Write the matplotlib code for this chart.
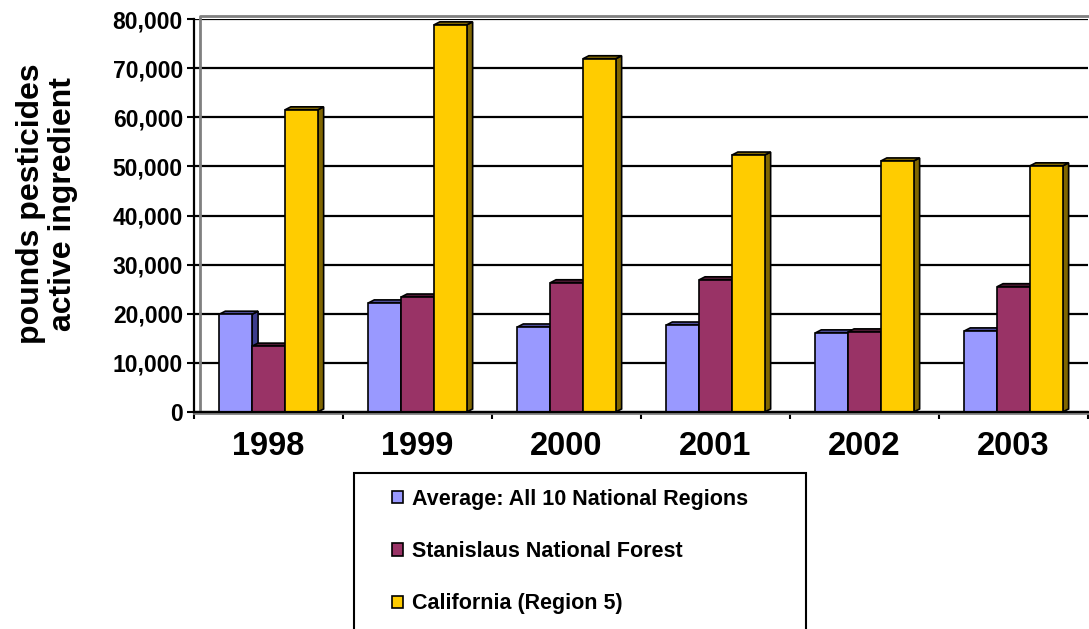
import numpy as np
import matplotlib.pyplot as plt
from matplotlib.patches import Patch, Polygon, Rectangle

plt.rcParams['font.family'] = ['Liberation Sans', 'DejaVu Sans']
plt.rcParams['font.weight'] = 'bold'

years = ['1998', '1999', '2000', '2001', '2002', '2003']
national_avg = [19900, 22200, 17300, 17700, 16100, 16500]
stanislaus = [13400, 23400, 26300, 26900, 16300, 25500]
california = [61500, 78800, 71900, 52300, 51100, 50100]

series_names = ['Average: All 10 National Regions',
                'Stanislaus National Forest',
                'California (Region 5)']
front_colors = ['#9999FF', '#993366', '#FFCC00']
side_colors = ['#3C3C8C', '#4D1A33', '#806600']
top_colors = ['#4D4D99', '#4D1A33', '#806600']


def draw_bar(ax, x, w, h, i, z, dx, dy):
    edge = dict(edgecolor='black', linewidth=1.2)
    side = [(x + w / 2, 0), (x + w / 2 + dx, dy),
            (x + w / 2 + dx, h + dy), (x + w / 2, h)]
    top = [(x - w / 2, h), (x - w / 2 + dx, h + dy),
           (x + w / 2 + dx, h + dy), (x + w / 2, h)]
    ax.add_patch(Polygon(side, closed=True, facecolor=side_colors[i],
                         zorder=z, **edge))
    ax.add_patch(Polygon(top, closed=True, facecolor=top_colors[i],
                         zorder=z, **edge))
    ax.add_patch(Rectangle((x - w / 2, 0), w, h, facecolor=front_colors[i],
                           zorder=z + 0.5, **edge))


def main():
    fig = plt.figure(figsize=(10.89, 6.29), dpi=100)
    ax = fig.add_axes([194 / 1089, 1 - 412 / 629, 894 / 1089, 393 / 629])

    data = [national_avg, stanislaus, california]
    x = np.arange(len(years))
    width = 0.22
    offsets = [-0.22, 0.0, 0.22]
    dx, dy = 0.04, 620

    ax.set_xlim(-0.5, len(years) - 0.5)
    ax.set_ylim(0, 80000)

    # back wall and floor
    ax.plot([-0.5 + dx, -0.5 + dx, len(years) - 0.5],
            [0, 80000 + dy, 80000 + dy], color='#808080', lw=2,
            clip_on=False, zorder=1)
    ax.plot([-0.5, len(years) - 0.5], [-dy / 3, -dy / 3], color='#808080',
            lw=2, clip_on=False, zorder=1)

    z = 3
    for g in range(len(years)):
        for i in range(3):
            draw_bar(ax, x[g] + offsets[i], width, data[i][g], i, z, dx, dy)
            z += 1

    ax.set_yticks(np.arange(0, 80001, 10000))
    ax.yaxis.set_major_formatter(plt.FuncFormatter(lambda v, p: f'{int(v):,}'))
    ax.grid(axis='y', color='black', linewidth=1.6, zorder=0)
    ax.set_axisbelow(True)
    ax.tick_params(axis='y', labelsize=16.5, length=5, width=1.5, pad=3,
                   color='black')

    ax.set_xticks(x)
    ax.set_xticklabels(years, fontsize=23.5)
    ax.set_xticks(np.arange(-0.5, len(years)), minor=True)
    ax.tick_params(axis='x', which='major', length=0, pad=14)
    ax.tick_params(axis='x', which='minor', length=5, width=1.5,
                   direction='out', color='black')

    for s in ['top', 'right']:
        ax.spines[s].set_visible(False)
    for s in ['left', 'bottom']:
        ax.spines[s].set_linewidth(1.6)
        ax.spines[s].set_zorder(50)

    fig.text(47 / 1089, 1 - 204 / 629, 'pounds pesticides\nactive ingredient',
             rotation=90, ha='center', va='center', fontsize=23,
             linespacing=1.12)

    # legend box
    fig.patches.append(Rectangle((354 / 1089, -0.05), 452 / 1089,
                                 (1 - 473 / 629) + 0.05,
                                 transform=fig.transFigure, fill=False,
                                 edgecolor='black', linewidth=1.5))
    handles = [Patch(facecolor=c, edgecolor='black', linewidth=1.2)
               for c in front_colors]
    fig.legend(handles, series_names, loc='upper left',
               bbox_to_anchor=(392 / 1089, 1 - 489 / 629), frameon=False,
               fontsize=15.5, handlelength=0.5, handleheight=0.5,
               handletextpad=0.45, labelspacing=1.45, borderpad=0,
               borderaxespad=0)

    fig.savefig('out.png', dpi=100)


if __name__ == "__main__":
    main()
